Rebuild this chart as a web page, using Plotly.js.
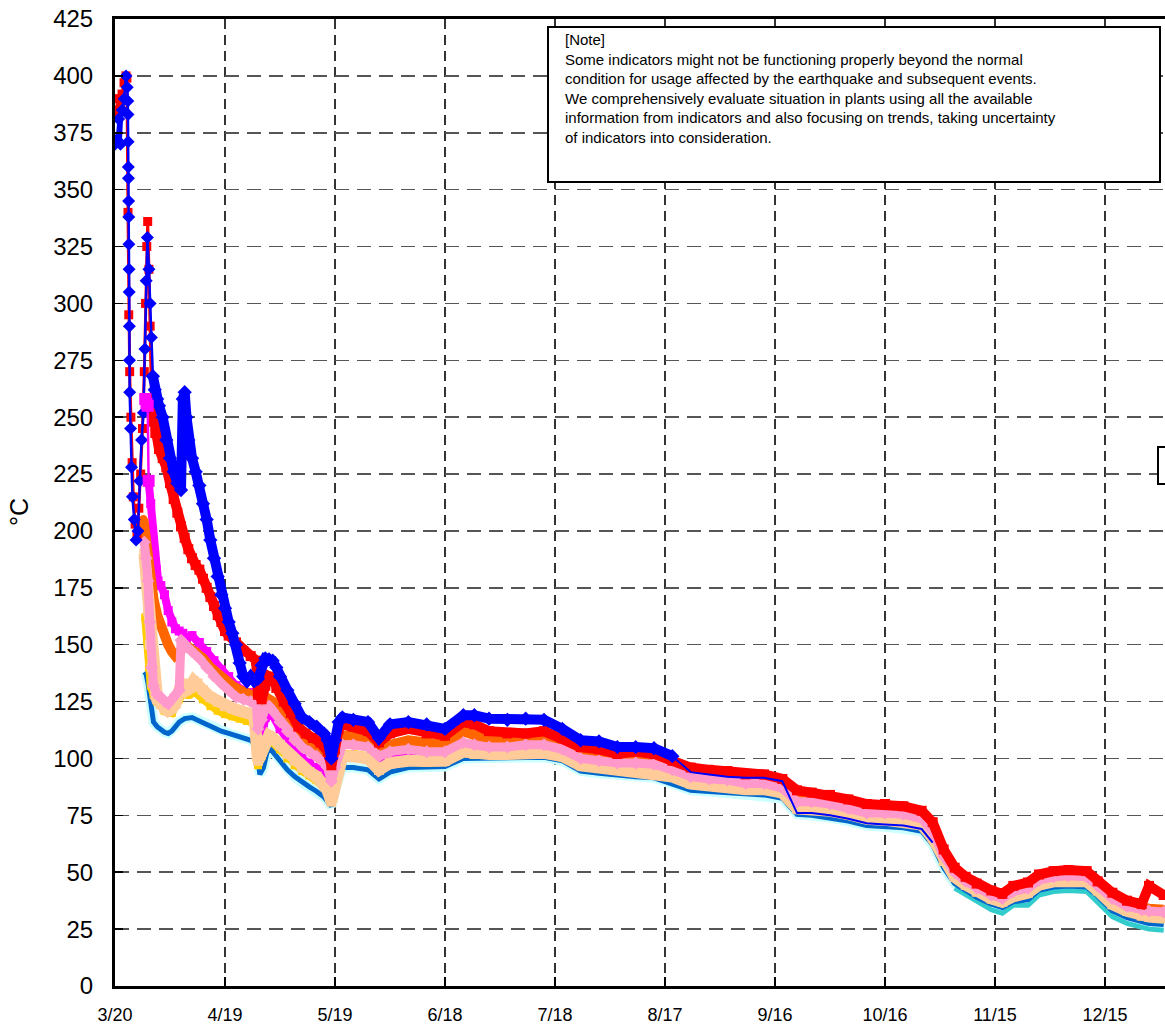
<!DOCTYPE html>
<html>
<head>
<meta charset="utf-8">
<script src="https://cdn.plot.ly/plotly-3.0.1.min.js"></script>
<style>html,body{margin:0;padding:0;background:#fff;}#chart{width:1165px;height:1027px;}</style>
</head>
<body>
<div id="chart"></div>
<script>
// ---------- axis ticks ----------
const tickDates = ['03-20','04-19','05-19','06-18','07-18','08-17','09-16','10-16','11-15','12-15'];
const tickLabels = ['3/20','4/19','5/19','6/18','7/18','8/17','9/16','10/16','11/15','12/15'];

// ---------- shared later dates (2011) ----------
const lateDates = ['05-21','05-24','05-28','05-31','06-03','06-08','06-13','06-18','06-23','06-26','06-30',
 '07-05','07-10','07-15','07-20','07-25','07-30','08-04','08-09','08-14','08-19','08-24','08-29',
 '09-03','09-08','09-13','09-18','09-22','09-26','10-01','10-06','10-11','10-16','10-21','10-26','10-29',
 '11-01','11-04','11-07','11-10','11-14','11-17','11-20','11-24','11-27',
 '12-01','12-05','12-10','12-13','12-17','12-21','12-25','12-27','12-31'];

// ---------- blue (diamonds) ----------
const blueSpikeDates = ['03-20 00:00','03-20 12:00','03-21 00:00','03-21 12:00','03-22 00:00','03-22 12:00','03-23 00:00','03-23 08:00',
 '03-23 12:00','03-23 13:00','03-23 14:00','03-23 15:00','03-23 16:00','03-23 17:00','03-23 18:00','03-23 19:00','03-23 20:00','03-23 21:00','03-23 22:00','03-23 23:00',
 '03-24 00:00','03-24 06:00','03-24 12:00','03-24 18:00','03-25 06:00','03-25 18:00','03-26 06:00','03-26 18:00','03-27 06:00','03-27 18:00',
 '03-28 04:00','03-28 12:00','03-28 20:00','03-29 06:00','03-29 14:00','03-29 22:00','03-30 08:00'];
const blueSpikeVals = [370,372,381,370,385,390,400,395,389,383,371,360,355,345,338,326,315,305,290,275,
 261,245,228,215,205,196,200,222,240,252,280,310,329,315,300,285,268];
const blueMainDates = ['03-30 08:00','03-30 20:00','03-31 12:00','04-01','04-02','04-03','04-04','04-05','04-06','04-07 00:00','04-07 12:00','04-08','04-08 12:00',
 '04-09','04-10','04-11','04-12','04-13','04-14','04-15','04-16','04-17','04-18','04-19','04-20','04-21','04-22','04-23','04-24','04-25','04-26','04-27','04-28','04-29','04-30',
 '05-01','05-02','05-03','05-04','05-06','05-08','05-10','05-12','05-14','05-16','05-17','05-18','05-19','05-20'];
const blueMainVals = [268,262,258,255,250,240,232,226,221,218,258,261,250,
 240,232,226,220,212,205,196,188,180,172,166,160,155,150,142,136,134,136,134,135,141,144,
 143.5,143,140,136,130,124,118,116,114,111,108,100,108,116];
const blueMidVals = [118,117,116,109,115,116,115,113,119,119,117.5,117,117.5,117,113,108,107.5,105,105,104.5,101];
const blueLateVals = [101,94,93,92,91.5,91.5,90,76,76,75,73.5,71.5,71,70.5,69,63];

// ---------- red (squares) ----------
const redSpikeDates = ['03-20 00:00','03-20 13:00','03-20 20:00','03-21 10:00','03-21 22:00','03-22 11:00','03-23 00:00','03-23 06:00','03-23 13:00','03-23 18:00',
 '03-24 00:00','03-24 08:00','03-24 16:00','03-25 00:00','03-25 12:00','03-26 00:00','03-26 12:00','03-27 00:00','03-27 12:00','03-28 00:00','03-28 08:00','03-28 16:00','03-28 22:00',
 '03-29 06:00','03-29 14:00','03-30 00:00'];
const redSpikeVals = [383,385,390,388,392,397,400,399,340,295,270,250,230,215,203,198,210,225,245,270,300,325,336,315,290,255];
const redMainDates = ['03-30 00:00','03-30 12:00','03-31','04-01','04-02','04-03','04-04','04-05','04-06','04-07','04-08','04-09','04-10','04-11','04-12','04-13','04-14','04-15','04-16','04-17','04-18','04-19','04-20',
 '04-22','04-24','04-26','04-27 12:00','04-28','04-29','04-30','05-01','05-02','05-03','05-05','05-07','05-09','05-11','05-13','05-15','05-17','05-18','05-19','05-20'];
const redMainVals = [255,248,243,236,232,228,221,214,208,202,197,192,188,185,183,179,175,171,167,163,160,156,154,
 151,147,145,143,128,126,132,136,135,131,125,120,114,111,109,107,103,97,104,113];
const redLateVals = [115,114,112,107,111,113,111,110,116,115,112,111,111,112,109,105,104,102,103,102,99,96,95,
 94.5,93,93,91,86,85,84,82,80,80,79,77,72,60,52,48,45,42,40.5,44,45.5,49,50.5,51,50.5,46,41,37.5,36,44,40];

// ---------- magenta (squares) ----------
const magSpikeDates = ['03-28 06:00','03-28 14:00','03-28 22:00','03-29 04:00'];
const magSpikeVals = [258,256,255,222];
const magDates = ['03-29 04:00','03-29 18:00','03-30 06:00','03-30 18:00','03-31 06:00','03-31 18:00','04-01 12:00','04-02 12:00','04-03 12:00','04-04 12:00','04-05 12:00','04-06 12:00','04-07 12:00','04-08 12:00',
 '04-10','04-12','04-14','04-16','04-18','04-20','04-22','04-24','04-26','04-27 12:00','04-28','04-29','04-30','05-01','05-02','05-04','05-06','05-08','05-10','05-12','05-14','05-16','05-17','05-18','05-19','05-20'];
const magVals = [222,212,200,190,183,178,176,172,165,160,157,156,155,153,
 154,151,147,143,139,136,132,130,129,128,100,110,118,120,119,113,108,104,100,98,96,93,90,85,94,100];
const magLateVals = [101,101,100,97,100,101,100.5,100.5,104.5,103.5,103.5,103.5,104,104,102.5,98.5,97.5,96.5,96,95.5,93.5,90.5,89.5,
 89,88,88,86,79.5,79.5,78.5,77,75,74.5,74,72,66,55,48,44.5,41.5,38.5,37,40,41.5,45,46.5,47,46.5,42.5,37,33.5,32,31.5,31];

// ---------- orange ----------
const orangeDates = ['03-27 18:00','03-28 06:00','03-28 18:00','03-29 06:00','03-29 18:00','03-30 12:00','03-31 12:00','04-01 12:00','04-02 12:00','04-03 12:00','04-04 12:00','04-05 12:00','04-06 12:00','04-07 12:00',
 '04-09','04-11','04-13','04-15','04-17','04-19','04-21','04-23','04-25','04-27 12:00','04-28','04-29','04-30','05-01','05-02','05-04','05-06','05-08','05-10','05-12','05-14','05-16','05-17','05-18','05-19','05-20'];
const orangeVals = [205,198,190,180,175,170,163,158,154,150,147,145,146,149,
 149,147,144,140,137,134,132,130,129,127,115,119,124,126,125,120,116,112,109,107,105,102,99,93,100,107];
const orangeLateVals = [110,110,108,103,106,108,107,106,112,110,108,108,108,108,106,102,101,100,100,99.5,97,94,93,
 92.5,91,91,89,83,83,82,80,78,78,77,75,70,58,51,47,44,41,39.5,42.5,44,47.5,49,49.5,49,45,39.5,36,34.5,34,33.5];

// ---------- pink ----------
const pinkDates = ['03-28 00:00','03-28 12:00','03-29 00:00','03-29 12:00','03-30 00:00','03-30 12:00','03-31 12:00','04-01 12:00','04-02 12:00','04-03 12:00','04-04 12:00','04-05 12:00','04-06 12:00',
 '04-07 00:00','04-07 12:00','04-08 12:00','04-10','04-12','04-14','04-16','04-18','04-20','04-22','04-24','04-26','04-27 12:00','04-28','04-29','04-30','05-01','05-02',
 '05-04','05-06','05-08','05-10','05-12','05-14','05-16','05-17','05-18','05-19','05-20'];
const pinkVals = [195,188,178,160,140,132,128,127,125,124,126,128,130,
 152,151,149,147,144,140,136,133,130,127,126,125,124,113,117,122,123,121,
 116,112,108,105,103,101,98,96,90,96,103];
const pinkLateVals = [106,106,105,101,103,104,103,103,107,106,105,105,106,106,104,100,99,98,98,97.5,95,92,91,
 90.5,89,89,87,81,81,80,78,76,76,75.5,73.5,68,57,50,46,43,40,38.5,41.5,43,46.5,48,48.5,48,44,38.5,35,33.5,33,32.5];

// ---------- peach ----------
const peachDates = ['03-28 00:00','03-28 12:00','03-29 00:00','03-29 12:00','03-30 00:00','03-30 12:00','03-31 00:00','03-31 12:00',
 '04-01 12:00','04-02 12:00','04-03 12:00','04-04 12:00','04-05 12:00','04-06 12:00','04-07 12:00','04-08 12:00','04-09 12:00','04-10 12:00','04-11 12:00',
 '04-13','04-15','04-17','04-19','04-21','04-23','04-25','04-27','04-28','04-29','04-30','05-01','05-02',
 '05-04','05-06','05-08','05-10','05-12','05-14','05-16','05-17','05-18','05-19','05-20'];
const peachVals = [190,180,165,150,140,133,128,126,
 124,122,121,122,124,130,133,130,131,134,133,
 130,127,125,123,122,121,120,119,99,103,108,110,109,
 106,102,99,96,94,92,89,86,81,88,96];
const peachLateVals = [101,101,100,95,98,99,98.5,99,103,102,102,102,102.5,102.5,101,97,96,95,94.5,94,92,89,88,
 87.5,86.5,86.5,85,78,78,77,75.5,73.5,73,72.5,71,65,55,48,44.5,41.5,38.5,37,39.5,41,44.5,46,46.5,46,42,36,33,31,30.5,30];

// ---------- gold ----------
const goldDates = ['03-28 06:00','03-28 18:00','03-29 06:00','03-29 18:00','03-30 12:00','03-31 12:00','04-02 12:00','04-04 12:00','04-06 12:00','04-07 12:00',
 '04-09','04-11','04-13','04-15','04-17','04-19','04-21','04-23','04-25','04-27','04-28','04-29','04-30','05-01','05-02',
 '05-04','05-06','05-08','05-10','05-12','05-14','05-16','05-17','05-18','05-19','05-20'];
const goldVals = [162,152,140,132,128,125,121,120,126,129,
 128,129,126,123,121,119.5,118.5,117.5,116.5,115.5,97,101,106,108,107,
 104,100,97,94.5,92.5,90.5,87.5,85,81,90,97];
const goldLateVals = [102,102,101,96,97.5,98.5,98,98.5,102.5,101.5,101.5,101.5,102,102,100.5,96.5,95.5,94.5,94,93.5,91.5,88.5,87.5,
 87,86,86,84.5,77.5,77.5,76.5,75,73,72.5,72,70.5,64.5,54.5,47.5,44,41,38,36.5,39,40.5,44,45.5,46,45.5,41.5,35.5,32.5,30.5,30,29.5];

// ---------- dark blue ----------
const dblueDates = ['03-28 00:00','03-28 12:00','03-29 00:00','03-29 12:00','03-30 00:00','03-30 12:00','03-31 12:00','04-01 12:00','04-02 12:00','04-03 12:00','04-04 12:00','04-05 12:00','04-06 12:00',
 '04-08','04-10','04-12','04-14','04-16','04-18','04-20','04-22','04-24','04-26','04-27 12:00','04-28 12:00','04-29 12:00','04-30 12:00','05-01 12:00','05-02 12:00',
 '05-04','05-06','05-08','05-10','05-12','05-14','05-16','05-17','05-18','05-19','05-20'];
const dblueVals = [138,137,133,126,120,116,114,112.5,111.5,111,112,114,116,
 117.5,118,116.5,115,113,112,111,110,109,108,106,93,96,103,104,102,
 99,95,92,89.5,87.5,85.5,83,81,79,86,92];
const dblueLateVals = [96,96,95,91,94,96,96,96.5,100,100,100,100,100.5,100.5,99,94.5,93.5,92.5,92,91.5,89,86,85.5,
 85,84,84,82.5,75.5,75,74,72.5,70.5,70,69.5,68,62,52,45,42,39,36,34.5,37,38,42,43.5,44,43.5,39.5,33,30,28,27.5,27];

// ---------- turquoise (late) ----------
const turqVals = [43,40,37,33.5,32,35.5,35.5,40,41.5,42,41.5,37,30.5,27.5,25.5,25,24.5];

// ---------- note ----------
const noteLines = ['[Note]',
 'Some indicators might not be functioning properly beyond the normal',
 'condition for usage affected by the earthquake and subsequent events.',
 'We comprehensively evaluate situation in plants using all the available',
 'information from indicators and also focusing on trends, taking uncertainty',
 'of indicators into consideration.'];

// ================= build =================
const yr = s => '2011-' + s;
const D = arr => arr.map(yr);

function band(x, y, color, w, sym, msize) {
  const t = {type:'scatter', mode: sym ? 'lines+markers' : 'lines', x:D(x), y:y,
    line:{color:color, width:w}, hoverinfo:'skip'};
  if (sym) t.marker = {symbol:sym, size:msize, color:color, line:{width:0}};
  return t;
}

const traces = [];
traces.push(band(dblueDates.concat(lateDates), dblueVals.concat(dblueLateVals), '#CCFFFF', 10));
traces.push(band(lateDates.slice(37), turqVals, '#33CCCC', 5));
traces.push(band(dblueDates.concat(lateDates), dblueVals.concat(dblueLateVals), '#0066CC', 5));
traces.push(band(goldDates.concat(lateDates), goldVals.concat(goldLateVals), '#FFCC00', 8, 'square', 8));
traces.push(band(magDates.concat(lateDates), magVals.concat(magLateVals), '#FF00FF', 8, 'square', 9));
traces.push(band(orangeDates.concat(lateDates), orangeVals.concat(orangeLateVals), '#FF6600', 10, 'circle', 9));
traces.push(band(peachDates.concat(lateDates), peachVals.concat(peachLateVals), '#FFCC99', 12, 'square', 10));
traces.push(band(pinkDates.concat(lateDates), pinkVals.concat(pinkLateVals), '#FF99CC', 9, 'diamond', 10));
traces.push(band(redMainDates.concat(lateDates), redMainVals.concat(redLateVals), '#FF0000', 10, 'square', 10));
traces.push(band(redSpikeDates, redSpikeVals, '#FF0000', 3, 'square', 9));
traces.push(band(blueMainDates.concat(lateDates.slice(0,21)), blueMainVals.concat(blueMidVals), '#0000FF', 10, 'diamond', 11));
traces.push(band(lateDates.slice(20,36), blueLateVals, '#0000FF', 2));
traces.push(band(blueSpikeDates, blueSpikeVals, '#0000FF', 2.5, 'diamond', 10));
traces.push(band(magSpikeDates, magSpikeVals, '#FF00FF', 2.5, 'square', 12));

const L = 115, R = 1165, T = 19, B = 986;
const px = v => (v - L) / (R - L);
const py = v => (B - v) / (B - T);

const layout = {
  width:1165, height:1027,
  margin:{l:115, r:0, t:19, b:41, pad:0},
  paper_bgcolor:'#fff', plot_bgcolor:'#fff',
  showlegend:false, hovermode:false,
  font:{family:'Liberation Sans, Arial, sans-serif', color:'#000'},
  xaxis:{type:'date', range:['2011-03-20 00:00','2011-12-31 08:40'],
    tickmode:'array', tickvals:D(tickDates), ticktext:tickLabels,
    ticks:'inside', ticklen:9, tickwidth:1.5, tickcolor:'#000',
    showline:true, linecolor:'#000', linewidth:3, mirror:true,
    showgrid:true, gridcolor:'#333', gridwidth:1.3, griddash:'10px,6px',
    zeroline:false, tickfont:{size:18, family:'Liberation Sans, Arial, sans-serif'}, ticklabelstandoff:10},
  yaxis:{range:[0,425], tickmode:'linear', tick0:0, dtick:25,
    ticks:'inside', ticklen:8, tickwidth:1.5, tickcolor:'#000',
    showline:true, linecolor:'#000', linewidth:3, mirror:false,
    showgrid:true, gridcolor:'#555', gridwidth:1.5, griddash:'14px,8px',
    zeroline:false, tickfont:{size:24, family:'Liberation Sans, Arial, sans-serif'}, ticklabelstandoff:14},
  shapes:[
    {type:'rect', xref:'paper', yref:'paper', x0:px(548), x1:px(1160), y0:py(182), y1:py(27),
      line:{color:'#000', width:2}, fillcolor:'#fff', layer:'above'},
    {type:'rect', xref:'paper', yref:'paper', x0:px(1158), x1:px(1230), y0:py(484), y1:py(447),
      line:{color:'#000', width:2}, fillcolor:'#fff', layer:'above'}
  ],
  annotations:[
    {xref:'paper', yref:'paper', x:px(563), y:py(29), xanchor:'left', yanchor:'top', align:'left',
      showarrow:false, text:noteLines.join('<br>'), font:{size:15, family:'Liberation Sans, Arial, sans-serif', color:'#000'}},
    {xref:'paper', yref:'paper', x:px(19), y:py(512), xanchor:'center', yanchor:'middle',
      showarrow:false, textangle:-90, text:'°C', font:{size:25, family:'Liberation Sans, Arial, sans-serif', color:'#000'}}
  ]
};

Plotly.newPlot('chart', traces, layout, {staticPlot:true, displayModeBar:false});
</script>
</body>
</html>
